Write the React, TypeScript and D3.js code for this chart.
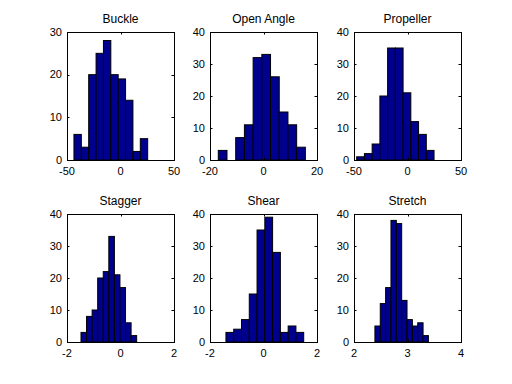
import React from "react";
import * as d3 from "d3";

const titles = ["Buckle", "Open Angle", "Propeller", "Stagger", "Shear", "Stretch"];

const buckleCounts = [6, 3, 20, 25, 28, 20, 19, 14, 2, 5];
const openAngleCounts = [3, 0, 7, 11, 32, 33, 26, 15, 11, 4];
const propellerCounts = [1, 2, 5, 20, 35, 35, 21, 12, 8, 3];
const staggerCounts = [3, 8, 10, 20, 22, 33, 21, 17, 6, 2];
const shearCounts = [3, 4, 7, 15, 35, 39, 28, 3, 5, 3];
const stretchCounts = [5, 12, 17, 38, 37, 13, 7, 5, 6, 2];

// data range covered by the 10 bins (min, max)
const buckleRange = [-43.5, 25.4];
const openAngleRange = [-16.9, 15.65];
const propellerRange = [-47.5, 24.8];
const staggerRange = [-1.477, 0.604];
const shearRange = [-1.404, 1.503];
const stretchRange = [2.391, 3.391];

const buckleXTicks = [-50, 0, 50];
const openAngleXTicks = [-20, 0, 20];
const propellerXTicks = [-50, 0, 50];
const staggerXTicks = [-2, 0, 2];
const shearXTicks = [-2, 0, 2];
const stretchXTicks = [2, 3, 4];

const buckleYTicks = [0, 10, 20, 30];
const defaultYTicks = [0, 10, 20, 30, 40];

const panels = [
  { counts: buckleCounts, range: buckleRange, xTicks: buckleXTicks, yTicks: buckleYTicks },
  { counts: openAngleCounts, range: openAngleRange, xTicks: openAngleXTicks, yTicks: defaultYTicks },
  { counts: propellerCounts, range: propellerRange, xTicks: propellerXTicks, yTicks: defaultYTicks },
  { counts: staggerCounts, range: staggerRange, xTicks: staggerXTicks, yTicks: defaultYTicks },
  { counts: shearCounts, range: shearRange, xTicks: shearXTicks, yTicks: defaultYTicks },
  { counts: stretchCounts, range: stretchRange, xTicks: stretchXTicks, yTicks: defaultYTicks },
];

const colLefts = [67, 210, 354];
const rowTops = [32, 214];
const W = 107;
const H = 128;
const FONT = "Liberation Sans, Arial, Helvetica, sans-serif";
const TL = 2.5;

function Panel({ idx }: { idx: number }) {
  const p = panels[idx];
  const left = colLefts[idx % 3];
  const top = rowTops[Math.floor(idx / 3)];
  const xs = d3.scaleLinear().domain([p.xTicks[0], p.xTicks[p.xTicks.length - 1]]).range([left, left + W]);
  const ys = d3.scaleLinear().domain([p.yTicks[0], p.yTicks[p.yTicks.length - 1]]).range([top + H, top]);
  const n = p.counts.length;
  const bw = (p.range[1] - p.range[0]) / n;
  const bars = p.counts.map((c, i) => {
    const x0 = xs(p.range[0] + i * bw);
    const x1 = xs(p.range[0] + (i + 1) * bw);
    return { x0, x1, y: ys(c), c };
  });
  const bottom = top + H;
  return (
    <g>
      {bars.map((b, i) =>
        b.c > 0 ? (
          <rect
            key={i}
            x={b.x0}
            y={b.y}
            width={b.x1 - b.x0}
            height={bottom - b.y}
            fill="#00008F"
            stroke="#000"
            strokeWidth={1}
          />
        ) : null
      )}
      <rect x={left + 0.5} y={top + 0.5} width={W} height={H} fill="none" stroke="#000" strokeWidth={1} />
      {p.xTicks.map((t, i) => {
        const x = Math.round(xs(t)) + 0.5;
        return (
          <g key={"x" + i}>
            <line x1={x} x2={x} y1={bottom} y2={bottom - TL} stroke="#000" />
            <line x1={x} x2={x} y1={top} y2={top + TL} stroke="#000" />
            <text x={xs(t)} y={bottom + 14.5} textAnchor="middle" fontSize={11} fontFamily={FONT} fill="#000">
              {t}
            </text>
          </g>
        );
      })}
      {p.yTicks.map((t, i) => {
        const y = Math.round(ys(t)) + 0.5;
        return (
          <g key={"y" + i}>
            <line x1={left} x2={left + TL} y1={y} y2={y} stroke="#000" />
            <line x1={left + W} x2={left + W - TL} y1={y} y2={y} stroke="#000" />
            <text x={left - 5} y={ys(t) + 3.5} textAnchor="end" fontSize={11} fontFamily={FONT} fill="#000">
              {t}
            </text>
          </g>
        );
      })}
      <text x={left + W / 2} y={top - 9} textAnchor="middle" fontSize={12} fontFamily={FONT} fill="#000">
        {titles[idx]}
      </text>
    </g>
  );
}

export default function App() {
  return (
    <svg
      width={512}
      height={384}
      style={{ position: "fixed", left: 0, top: 0, background: "#fff" }}
    >
      <rect x={0} y={0} width={512} height={384} fill="#fff" />
      {panels.map((_, i) => (
        <Panel key={i} idx={i} />
      ))}
    </svg>
  );
}
